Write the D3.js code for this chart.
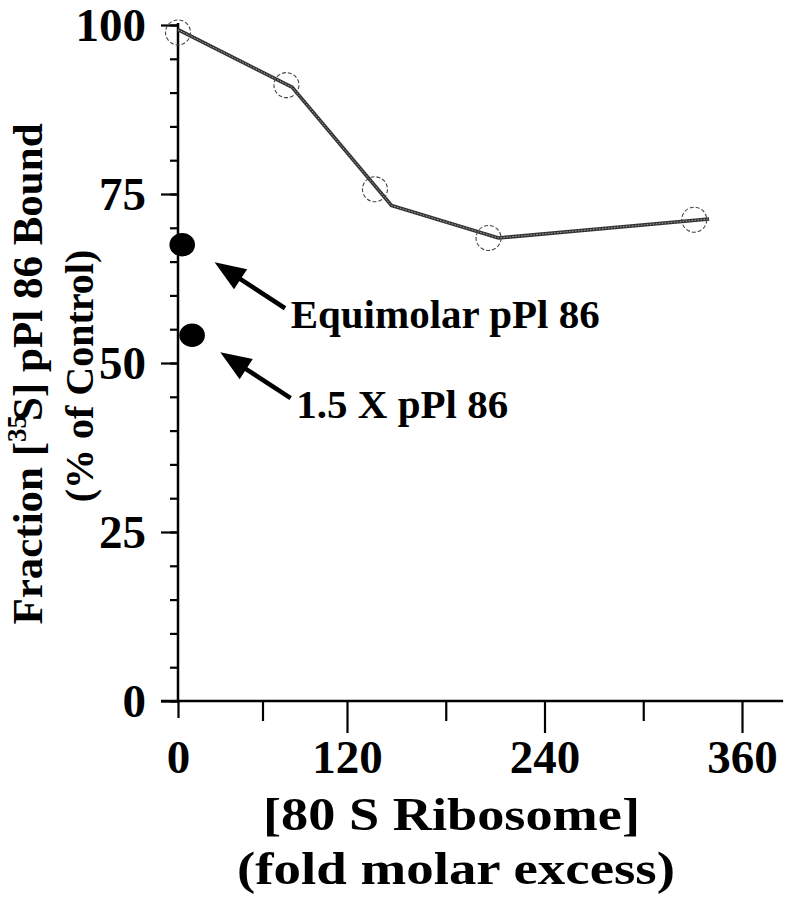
<!DOCTYPE html>
<html>
<head>
<meta charset="utf-8">
<script src="https://cdn.jsdelivr.net/npm/d3@7"></script>
<style>
  body { margin: 0; background: #fff; }
  svg text { font-family: "Liberation Serif", "DejaVu Serif", serif; font-weight: bold; fill: #000; }
</style>
</head>
<body>
<svg id="chart"></svg>
<script>
// fold molar excess of 80S ribosome vs fraction bound (% of control)
const ribosomeExcess = [0, 77, 137, 206, 331];
const fractionBound = [98.9, 91.1, 75.7, 68.5, 71.2];

// hand drawn curve through the points
const fitExcess = [0, 81, 147, 212, 340];
const fitBound = [99.3, 90.8, 73.3, 68.5, 71.3];

// pPl 86 competitor points
const competitorExcess = [3, 10];
const competitorBound = [67.5, 54.1];
const competitorLabels = ['Equimolar pPl 86', '1.5 X pPl 86'];
// arrow tip / tail and label anchor, in data units
const arrowTipX = [26, 30];
const arrowTipY = [64.9, 51.6];
const arrowTailX = [76, 80];
const arrowTailY = [58.1, 44.8];
const labelX = [80, 84];
const labelY = [55.2, 41.9];

const xTickLabels = [0, 120, 240, 360];
const xMinorTicks = [60, 180, 300];
const yTickLabels = [0, 25, 50, 75, 100];
const yMinorTicks = d3.range(0, 101, 5);

class RibosomeChart {
    constructor(_config) {
        this.config = {
            parentElement: _config.parentElement,
            containerWidth: _config.containerWidth || 794,
            containerHeight: _config.containerHeight || 900
        }
        this.initVis();
    }

    initVis() {
        let vis = this;

        vis.svg = d3.select(vis.config.parentElement)
            .attr('width', vis.config.containerWidth)
            .attr('height', vis.config.containerHeight);

        // x axis is compressed between 0 and 120 in the original figure
        vis.xScale = d3.scaleLinear()
            .domain([0, 120, 360])
            .range([178, 347, 742]);

        vis.yScale = d3.scaleLinear()
            .domain([0, 100])
            .range([701, 25]);

        vis.chart = vis.svg.append('g');
        vis.renderVis();
    }

    renderVis() {
        let vis = this;
        const x0 = vis.xScale(0);
        const y0 = vis.yScale(0);

        // ---- y axis
        const yMinor = d3.axisLeft(vis.yScale).tickValues(yMinorTicks)
            .tickSize(8).tickSizeOuter(0).tickFormat('');
        const yMajor = d3.axisLeft(vis.yScale).tickValues(yTickLabels)
            .tickSize(17).tickSizeOuter(0).tickPadding(15);

        vis.chart.append('g').attr('transform', `translate(${x0},0)`).call(yMinor);
        vis.chart.append('g').attr('class', 'y-major')
            .attr('transform', `translate(${x0},0)`).call(yMajor)
            .selectAll('text').style('font-size', '47px').attr('dy', '0.34em');

        // ---- x axis
        const xLong = d3.axisBottom(vis.xScale).tickValues([120, 240, 360])
            .tickSize(32).tickSizeOuter(0).tickFormat('');
        const xMid = d3.axisBottom(vis.xScale).tickValues(xMinorTicks)
            .tickSize(20).tickSizeOuter(0).tickFormat('');
        const xZero = d3.axisBottom(vis.xScale).tickValues([0])
            .tickSize(17).tickSizeOuter(0).tickFormat('');
        const xLabels = d3.axisBottom(vis.xScale).tickValues(xTickLabels)
            .tickSize(0).tickPadding(39);

        [xLong, xMid, xZero].forEach(ax => {
            vis.chart.append('g').attr('transform', `translate(0,${y0})`).call(ax)
                .select('.domain').remove();
        });
        const xl = vis.chart.append('g').attr('transform', `translate(0,${y0})`).call(xLabels);
        xl.select('.domain').remove();
        xl.selectAll('text').style('font-size', '47px');

        // axis lines
        vis.chart.append('line')
            .attr('x1', x0 - 17).attr('x2', vis.xScale(385))
            .attr('y1', y0).attr('y2', y0)
            .attr('stroke', '#000').attr('stroke-width', 2.5);
        vis.chart.append('line')
            .attr('x1', x0).attr('x2', x0)
            .attr('y1', vis.yScale(100) - 2).attr('y2', y0)
            .attr('stroke', '#000').attr('stroke-width', 2.5);

        vis.chart.selectAll('.tick line').attr('stroke', '#000').attr('stroke-width', 2.2);
        vis.chart.selectAll('.domain').attr('stroke', 'none');

        // ---- fit line
        const fitData = fitExcess.map((d, i) => ({x: d, y: fitBound[i]}));
        const line = d3.line()
            .x(d => vis.xScale(d.x))
            .y(d => vis.yScale(d.y));

        vis.chart.append('path')
            .datum(fitData)
            .attr('d', line)
            .attr('fill', 'none')
            .attr('stroke', '#333')
            .attr('stroke-width', 3.6);
        vis.chart.append('path')
            .datum(fitData)
            .attr('d', line)
            .attr('fill', 'none')
            .attr('stroke', '#aaa')
            .attr('stroke-width', 1)
            .attr('stroke-dasharray', '1.5,1.5');

        // ---- open data circles (dashed)
        const points = ribosomeExcess.map((d, i) => ({x: d, y: fractionBound[i]}));
        vis.chart.selectAll('.open-pt')
            .data(points)
            .join('circle')
            .attr('class', 'open-pt')
            .attr('cx', d => vis.xScale(d.x))
            .attr('cy', d => vis.yScale(d.y))
            .attr('r', 12.5)
            .attr('fill', 'none')
            .attr('stroke', '#444')
            .attr('stroke-width', 1.1)
            .attr('stroke-dasharray', '4,2');

        // ---- competitor points
        const comp = competitorExcess.map((d, i) => ({x: d, y: competitorBound[i]}));
        vis.chart.selectAll('.comp-pt')
            .data(comp)
            .join('ellipse')
            .attr('class', 'comp-pt')
            .attr('cx', d => vis.xScale(d.x))
            .attr('cy', d => vis.yScale(d.y))
            .attr('rx', 12.8)
            .attr('ry', 11.7)
            .attr('fill', '#000');

        // ---- arrows + labels
        competitorLabels.forEach((lab, i) => {
            const tx = vis.xScale(arrowTipX[i]), ty = vis.yScale(arrowTipY[i]);
            const sx = vis.xScale(arrowTailX[i]), sy = vis.yScale(arrowTailY[i]);
            const len = Math.hypot(tx - sx, ty - sy);
            const ux = (tx - sx) / len, uy = (ty - sy) / len;
            const headLen = 31, headW = 12;
            const bx = tx - ux * headLen, by = ty - uy * headLen;

            vis.chart.append('line')
                .attr('x1', sx).attr('y1', sy)
                .attr('x2', bx + ux * 2).attr('y2', by + uy * 2)
                .attr('stroke', '#000').attr('stroke-width', 4.5);
            vis.chart.append('path')
                .attr('d', `M${tx},${ty}L${bx - uy * headW},${by + ux * headW}L${bx + uy * headW},${by - ux * headW}Z`)
                .attr('fill', '#000');

            vis.chart.append('text')
                .attr('x', vis.xScale(labelX[i]))
                .attr('y', vis.yScale(labelY[i]))
                .style('font-size', '41px')
                .text(lab);
        });

        // ---- axis titles (original face is wider than Times, so stretch to width)
        vis.svg.append('text')
            .attr('x', 263).attr('y', 830)
            .attr('textLength', 377).attr('lengthAdjust', 'spacingAndGlyphs')
            .style('font-size', '47px')
            .text('[80 S Ribosome]');
        vis.svg.append('text')
            .attr('x', 237).attr('y', 884)
            .attr('textLength', 438).attr('lengthAdjust', 'spacingAndGlyphs')
            .style('font-size', '47px')
            .text('(fold molar excess)');

        const yt1 = vis.svg.append('text')
            .attr('transform', 'translate(42,374) rotate(-90)')
            .attr('text-anchor', 'middle')
            .style('font-size', '43px');
        yt1.append('tspan').text('Fraction [');
        yt1.append('tspan').attr('dy', -16).style('font-size', '27px').text('35');
        yt1.append('tspan').attr('dy', 16).attr('dx', -6).text('S] pPl 86 Bound');

        vis.svg.append('text')
            .attr('transform', 'translate(93,376) rotate(-90)')
            .attr('text-anchor', 'middle')
            .style('font-size', '40px')
            .text('(% of Control)');
    }
}

new RibosomeChart({parentElement: '#chart'});
</script>
</body>
</html>
